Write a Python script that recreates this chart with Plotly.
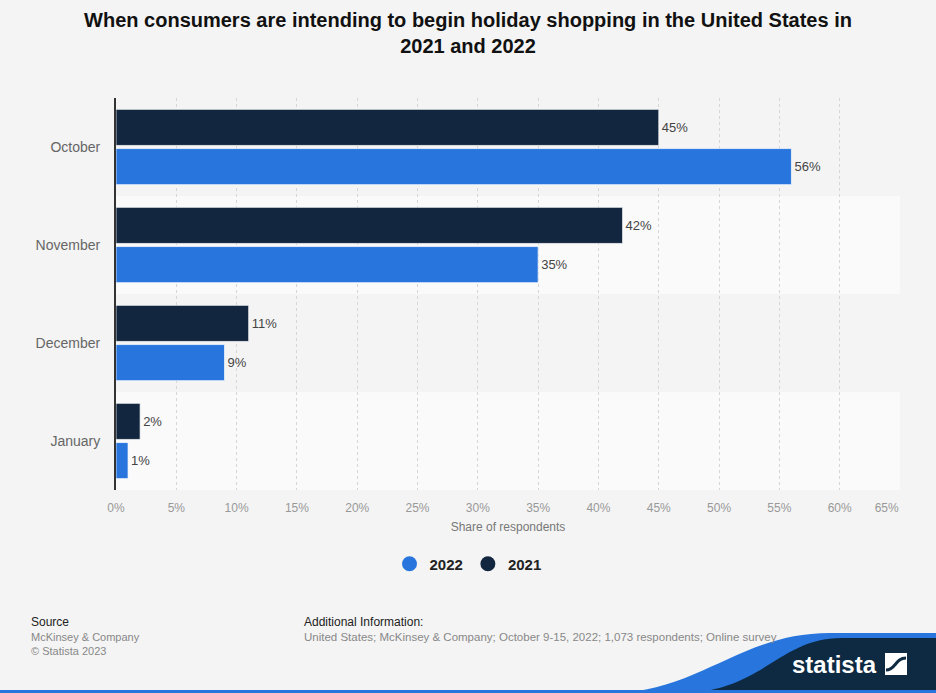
import plotly.graph_objects as go

# data
months = ["October", "November", "December", "January"]
share_2022 = [56, 35, 9, 1]
share_2021 = [45, 42, 11, 2]
x_ticks = list(range(0, 70, 5))

BLUE = "#2876dd"
NAVY = "#12263f"
FONT = "Liberation Sans, Arial, sans-serif"

W, H = 936, 693
L, R, T, B = 116, 36, 98, 203


# pixel -> paper helpers for the decoration
def px(x):
    return (x - L) / (W - L - R)


def py(y):
    return (H - B - y) / (H - T - B)


def to_paper(pts):
    return [v for a, b in pts for v in (px(a), py(b))]


fig = go.Figure()

fig.add_trace(go.Bar(
    y=months, x=share_2022, orientation="h", name="2022",
    marker=dict(color=BLUE, line=dict(color="rgba(255,255,255,0.7)", width=1)),
    text=[f"{v}%" for v in share_2022], textposition="outside",
    textfont=dict(size=13, color="#444"), cliponaxis=False, showlegend=False,
))
fig.add_trace(go.Bar(
    y=months, x=share_2021, orientation="h", name="2021",
    marker=dict(color=NAVY, line=dict(color="rgba(255,255,255,0.7)", width=1)),
    text=[f"{v}%" for v in share_2021], textposition="outside",
    textfont=dict(size=13, color="#444"), cliponaxis=False, showlegend=False,
))

# round legend markers
for name, col in [("2022", BLUE), ("2021", NAVY)]:
    fig.add_trace(go.Scatter(x=[None], y=[None], mode="markers", name=name,
                             marker=dict(size=15, color=col)))

# alternating row bands
shapes = []
for i, m in enumerate(months[::-1]):
    if m in ("November", "January"):
        shapes.append(dict(type="rect", xref="paper", yref="y", x0=0, x1=1,
                           y0=i - 0.5, y1=i + 0.5, fillcolor="#fafafa",
                           line=dict(width=0), layer="below"))

# statista footer wave + logo
wave = "M {:.4f},{:.4f} C {:.4f},{:.4f} {:.4f},{:.4f} {:.4f},{:.4f} L {:.4f},{:.4f} L {:.4f},{:.4f} Z"
blue_wave = wave.format(*to_paper([(612, 693), (700, 692), (740, 633), (830, 633), (936, 633), (936, 693)]))
navy_wave = wave.format(*to_paper([(688, 693), (765, 688), (780, 638), (842, 638), (936, 638), (936, 693)]))
shapes += [
    dict(type="path", xref="paper", yref="paper", path=blue_wave, fillcolor=BLUE, line=dict(width=0)),
    dict(type="path", xref="paper", yref="paper", path=navy_wave, fillcolor="#0d2a42", line=dict(width=0)),
    dict(type="rect", xref="paper", yref="paper", x0=px(0), x1=px(936), y0=py(693), y1=py(690),
         fillcolor=BLUE, line=dict(width=0)),
    dict(type="rect", xref="paper", yref="paper", x0=px(885), x1=px(907), y0=py(675), y1=py(653),
         fillcolor="white", line=dict(width=0)),
    dict(type="path", xref="paper", yref="paper",
         path="M {:.4f},{:.4f} C {:.4f},{:.4f} {:.4f},{:.4f} {:.4f},{:.4f}".format(
             *to_paper([(886, 670), (896, 670), (895, 658), (906, 658)])),
         line=dict(color="#0d2a42", width=3)),
]

annotations = [
    dict(text="Source", x=px(29), y=py(622), font=dict(size=12, color="#222")),
    dict(text="McKinsey & Company", x=px(29), y=py(637), font=dict(size=11, color="#888")),
    dict(text="© Statista 2023", x=px(29), y=py(651), font=dict(size=11, color="#888")),
    dict(text="Additional Information:", x=px(302), y=py(622), font=dict(size=12, color="#222")),
    dict(text="United States; McKinsey & Company; October 9-15, 2022; 1,073 respondents; Online survey",
         x=px(302), y=py(637), font=dict(size=11.5, color="#888")),
    dict(text="<b>statista</b>", x=px(879), y=py(664), xanchor="right",
         font=dict(size=24, color="white")),
]
for a in annotations:
    a.setdefault("xanchor", "left")
    a.update(xref="paper", yref="paper", yanchor="middle", showarrow=False)

# last tick label sits left of its gridline in the original
tick_text = [f"{v}%" for v in x_ticks]
tick_text[-1] = tick_text[-1] + "\u00a0" * 8

fig.update_layout(
    width=W, height=H,
    margin=dict(l=L, r=R, t=T, b=B),
    paper_bgcolor="#f4f4f4", plot_bgcolor="#f4f4f4",
    font=dict(family=FONT, color="#333"),
    title=dict(
        text="<b>When consumers are intending to begin holiday shopping in the United States in<br>2021 and 2022</b>",
        x=0.5, xanchor="center", xref="container", y=1 - 27 / H, yanchor="top",
        font=dict(size=20, color="#111"),
    ),
    barmode="group", bargap=0.2, bargroupgap=0.08,
    legend=dict(orientation="h", x=px(468), xanchor="center", y=py(564), yanchor="middle",
                font=dict(size=15, color="#222", weight="bold"), bgcolor="rgba(0,0,0,0)"),
    xaxis=dict(
        range=[0, 65], tickvals=x_ticks, ticktext=tick_text,
        showgrid=True, gridcolor="#d6d6d6", griddash="dot", gridwidth=1, zeroline=False,
        tickfont=dict(size=12, color="#999"), ticklabelstandoff=9,
        title=dict(text="Share of respondents", font=dict(size=12, color="#777"), standoff=8),
        fixedrange=True,
    ),
    yaxis=dict(
        categoryorder="array", categoryarray=months[::-1], range=[-0.5, 3.5],
        showline=True, linecolor="#333", linewidth=2, showgrid=False,
        tickfont=dict(size=14, color="#666"), ticklabelstandoff=11, fixedrange=True,
    ),
    shapes=shapes,
    annotations=annotations,
)

fig.write_html("out.html", config={"displayModeBar": False},
               post_script="document.body.style.margin='0';")
